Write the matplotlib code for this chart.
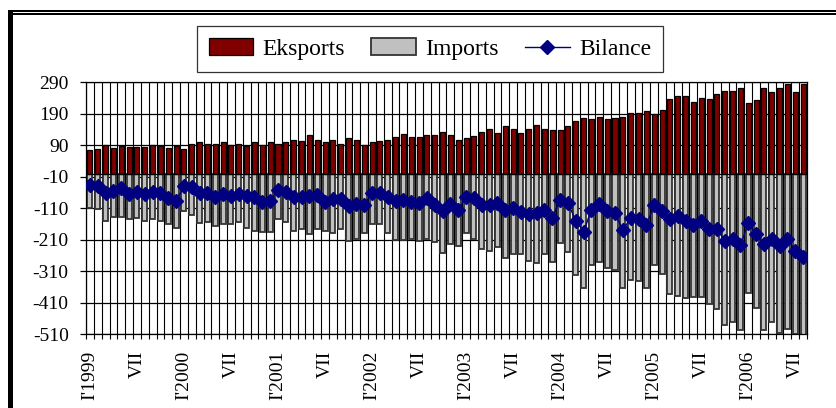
import matplotlib
matplotlib.use('Agg')
import matplotlib.pyplot as plt
from matplotlib.patches import Rectangle

W, H = 837, 408

# monthly data, Jan 1999 .. Aug 2006
exports = [74, 77, 90, 83, 88, 84, 84, 84, 90, 88, 83, 88,
           77, 94, 99, 94, 95, 99, 90, 94, 88, 99, 91, 100,
           94, 100, 107, 104, 122, 108, 100, 108, 94, 112, 108, 90,
           100, 104, 108, 116, 125, 116, 116, 124, 122, 133, 124, 108,
           112, 121, 133, 143, 129, 150, 143, 129, 143, 155, 143, 137,
           137, 150, 168, 176, 172, 180, 172, 176, 180, 194, 194, 199,
           189, 203, 237, 246, 246, 229, 241, 237, 254, 263, 263, 271,
           223, 233, 271, 258, 271, 284, 258, 284]

imports = [-110, -113, -149, -137, -137, -143, -141, -149, -145, -150, -161, -171,
           -120, -131, -157, -154, -166, -161, -161, -155, -171, -183, -184, -185,
           -144, -155, -183, -176, -192, -176, -183, -187, -176, -213, -208, -187,
           -160, -160, -187, -210, -210, -208, -213, -206, -218, -252, -224, -229,
           -189, -207, -238, -245, -233, -267, -254, -254, -276, -284, -254, -279,
           -219, -250, -321, -363, -290, -280, -298, -307, -363, -337, -341, -362,
           -291, -317, -383, -389, -396, -392, -392, -413, -431, -479, -472, -495,
           -378, -426, -495, -472, -506, -492, -508, -550]

bilance = [-36, -38, -60, -55, -47, -64, -59, -64, -58, -62, -78, -86,
           -40, -42, -60, -60, -74, -64, -71, -64, -72, -74, -89, -86,
           -52, -57, -74, -73, -71, -67, -91, -80, -79, -104, -97, -98,
           -62, -61, -74, -86, -85, -89, -94, -76, -98, -120, -97, -114,
           -75, -78, -101, -101, -94, -114, -109, -123, -128, -125, -114, -141,
           -83, -94, -149, -184, -114, -96, -120, -126, -179, -141, -144, -163,
           -101, -120, -144, -136, -149, -163, -149, -176, -176, -213, -206, -227,
           -158, -192, -224, -206, -231, -206, -245, -266]

tick_labels = ["I'1999", "VII", "I'2000", "VII", "I'2001", "VII", "I'2002", "VII",
               "I'2003", "VII", "I'2004", "VII", "I'2005", "VII", "I'2006", "VII"]

y_ticks = [290, 190, 90, -10, -110, -210, -310, -410, -510]

plt.rcParams['font.family'] = ['Liberation Serif', 'DejaVu Serif']

n = len(exports)
x = list(range(n))

fig = plt.figure(figsize=(W / 100, H / 100), dpi=100)
fig.patch.set_facecolor('white')

# plot area in pixels: x 86..807, y 82..334
ax = fig.add_axes([86 / W, 1 - 334.3 / H, 721 / W, 252 / H])

bw = 0.64
b1 = ax.bar(x, exports, width=bw, color='#800000',
            edgecolor='black', linewidth=0.9, zorder=3)
b2 = ax.bar(x, imports, width=bw, color='#c0c0c0',
            edgecolor='#333333', linewidth=1.3, zorder=2)
l1, = ax.plot(x, bilance, color='#000080', linewidth=1.0, marker='D',
              markersize=7, markerfacecolor='#000080', markeredgecolor='#000080',
              zorder=4)

ax.set_xlim(-0.5, n - 0.5)
ax.set_ylim(-510, 290)
ax.set_yticks(y_ticks)
ax.set_yticklabels([str(v) for v in y_ticks])

# vertical grid at each category boundary
for b in range(n + 1):
    ax.axvline(b - 0.5, color='black', linewidth=0.8, zorder=1)
for v in y_ticks:
    ax.axhline(v, color='black', linewidth=0.9, zorder=1)
ax.axhline(0, color='black', linewidth=0.9, zorder=3.5)

ax.set_xticks(list(range(0, n, 6)))
ax.set_xticklabels(tick_labels, rotation=90, va='top', ha='center')
ax.set_xticks([b - 0.5 for b in range(n + 1)], minor=True)
ax.tick_params(axis='x', which='major', length=0, pad=12, labelsize=14)
ax.tick_params(axis='x', which='minor', length=3.5, width=0.8)
ax.tick_params(axis='y', length=4.5, width=0.9, pad=8, labelsize=14)
for s in ax.spines.values():
    s.set_color('black')
    s.set_linewidth(0.9)

leg = fig.legend([b1, b2, l1], ['Eksports', 'Imports', 'Bilance'],
                 loc='center', bbox_to_anchor=(430 / W, 1 - 49 / H),
                 ncol=3, fontsize=17, frameon=True, fancybox=False,
                 edgecolor='black', handlelength=1.9, handleheight=0.7,
                 columnspacing=1.1, handletextpad=0.4, borderpad=0.5,
                 borderaxespad=0)
leg.get_frame().set_linewidth(0.9)

# outer chart border (left and top)
fig.add_artist(Rectangle((8 / W, 0), 5 / W, 1 - 10 / H, transform=fig.transFigure,
                         color='black', lw=0))
fig.add_artist(Rectangle((8 / W, 1 - 11.7 / H), 1, 1.7 / H, transform=fig.transFigure,
                         color='black', lw=0))
fig.add_artist(Rectangle((8 / W, 1 - 15 / H), 1, 2 / H, transform=fig.transFigure,
                         color='black', lw=0))

fig.savefig('out.png', dpi=100)
